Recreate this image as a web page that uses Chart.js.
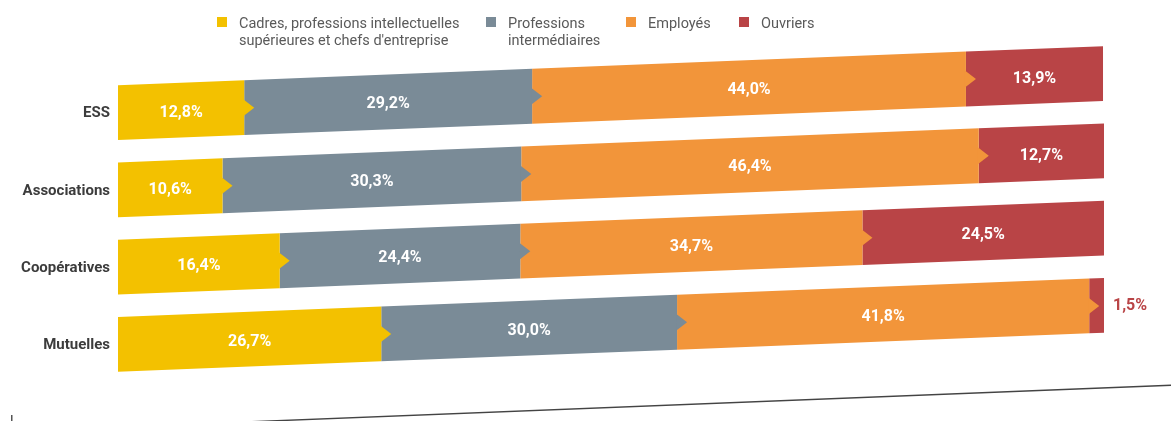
<!DOCTYPE html>
<html>
<head>
<meta charset="utf-8">
<script src="https://cdn.jsdelivr.net/npm/chart.js@4"></script>
<style>
body{margin:0;background:#fff;}
#wrap{position:relative;width:1171px;height:421px;}
#legend{position:absolute;left:0;top:0;width:1171px;height:60px;font-family:Roboto,sans-serif;font-size:14.5px;color:#5a5a5a;line-height:17px;}
.item{position:absolute;top:15px;}
.sq{position:absolute;left:0;top:2px;width:10px;height:10px;}
.txt{position:absolute;left:22px;top:0;white-space:nowrap;}
</style>
</head>
<body>
<div id="wrap">
<canvas id="chart"></canvas>
<div id="legend"></div>
</div>
<script>

/* DATA */

const categories=["ESS","Associations","Coopératives","Mutuelles"]

const seriesNames=[
["Cadres, professions intellectuelles","supérieures et chefs d'entreprise"],
["Professions","intermédiaires"],
["Employés"],
["Ouvriers"]
]

const cadres=[12.8,10.6,16.4,26.7]
const intermediaires=[29.2,30.3,24.4,30.0]
const employes=[44.0,46.4,34.7,41.8]
const ouvriers=[13.9,12.7,24.5,1.5]

const colors=["#F3C100","#7A8B97","#F2953A","#B94446"]

/* layout */

const SLOPE=0.0396
const legendX=[217,486,626,739]


/* LEGEND */

const legend=document.getElementById("legend")

seriesNames.forEach((name,i)=>{

let item=document.createElement("div")
item.className="item"
item.style.left=legendX[i]+"px"

let sq=document.createElement("div")
sq.className="sq"
sq.style.background=colors[i]

let txt=document.createElement("div")
txt.className="txt"
txt.innerHTML=name.join("<br>")

item.appendChild(sq)
item.appendChild(txt)
legend.appendChild(item)

})


/* SHEAR + LABELS */

function fmt(v){
return v.toFixed(1).replace(".",",")+"%"
}

const shearPlugin={

id:"shear",

beforeDatasetsDraw(chart){
const ctx=chart.ctx
ctx.save()
ctx.transform(1,-SLOPE,0,1,0,SLOPE*chart.chartArea.left)
},

afterDatasetsDraw(chart){

const ctx=chart.ctx
ctx.restore()

const x0=chart.chartArea.left
const n=chart.data.datasets.length

/* arrows */

for(let d=0;d<n-1;d++){

let meta=chart.getDatasetMeta(d)

meta.data.forEach((el,j)=>{

let next=chart.data.datasets[d+1].data[j]
if(!next) return

let x=el.x
let y=el.y-SLOPE*(x-x0)

ctx.fillStyle=colors[d]
ctx.beginPath()
ctx.moveTo(x-1,y-8.5)
ctx.lineTo(x+10,y)
ctx.lineTo(x-1,y+8.5)
ctx.closePath()
ctx.fill()

})

}

/* value labels */

ctx.textBaseline="middle"

for(let d=0;d<n;d++){

let meta=chart.getDatasetMeta(d)

meta.data.forEach((el,j)=>{

let v=chart.data.datasets[d].data[j]

if(v<5){
let x=el.x+9
ctx.font="bold 16px Roboto"
ctx.fillStyle=colors[d]
ctx.textAlign="left"
ctx.fillText(fmt(v),x,el.y-SLOPE*(el.x-x0)+1)
}else{
let cx=(el.x+el.base)/2
ctx.font="bold 16px Roboto"
ctx.fillStyle="#ffffff"
ctx.textAlign="center"
ctx.fillText(fmt(v),cx,el.y-SLOPE*(cx-x0)+2.5)
}

})

}

},

afterDraw(chart){

const ctx=chart.ctx
const area=chart.chartArea
const yScale=chart.scales.y

/* category labels */

ctx.save()
ctx.font="bold 15px Roboto"
ctx.fillStyle="#3c3c3c"
ctx.textAlign="right"
ctx.textBaseline="middle"

categories.forEach((c,i)=>{
ctx.fillText(c,area.left-8,yScale.getPixelForValue(i)+1)
})

/* slanted base line */

let by=area.bottom+44
ctx.strokeStyle="#444"
ctx.lineWidth=1.4
ctx.beginPath()
ctx.moveTo(area.left,by)
ctx.lineTo(chart.width,by-SLOPE*(chart.width-area.left))
ctx.stroke()

ctx.fillStyle="#555"
ctx.fillRect(11,415,1.5,6)

ctx.restore()

}

}


/* CHART */

new Chart(document.getElementById("chart"),{

type:"bar",

data:{
labels:categories,
datasets:[cadres,intermediaires,employes,ouvriers].map((data,i)=>({
label:seriesNames[i].join(" "),
data:data,
backgroundColor:colors[i],
borderWidth:0,
barPercentage:0.71,
categoryPercentage:1,
clip:false
}))
},

options:{
indexAxis:"y",
responsive:true,
maintainAspectRatio:false,
animation:false,
layout:{
padding:{left:118,right:67,top:74,bottom:38}
},
plugins:{
legend:{display:false},
tooltip:{enabled:false}
},
scales:{
x:{stacked:true,min:0,max:100,display:false},
y:{stacked:true,display:false}
}
},

plugins:[shearPlugin]

})

</script>
</body>
</html>
